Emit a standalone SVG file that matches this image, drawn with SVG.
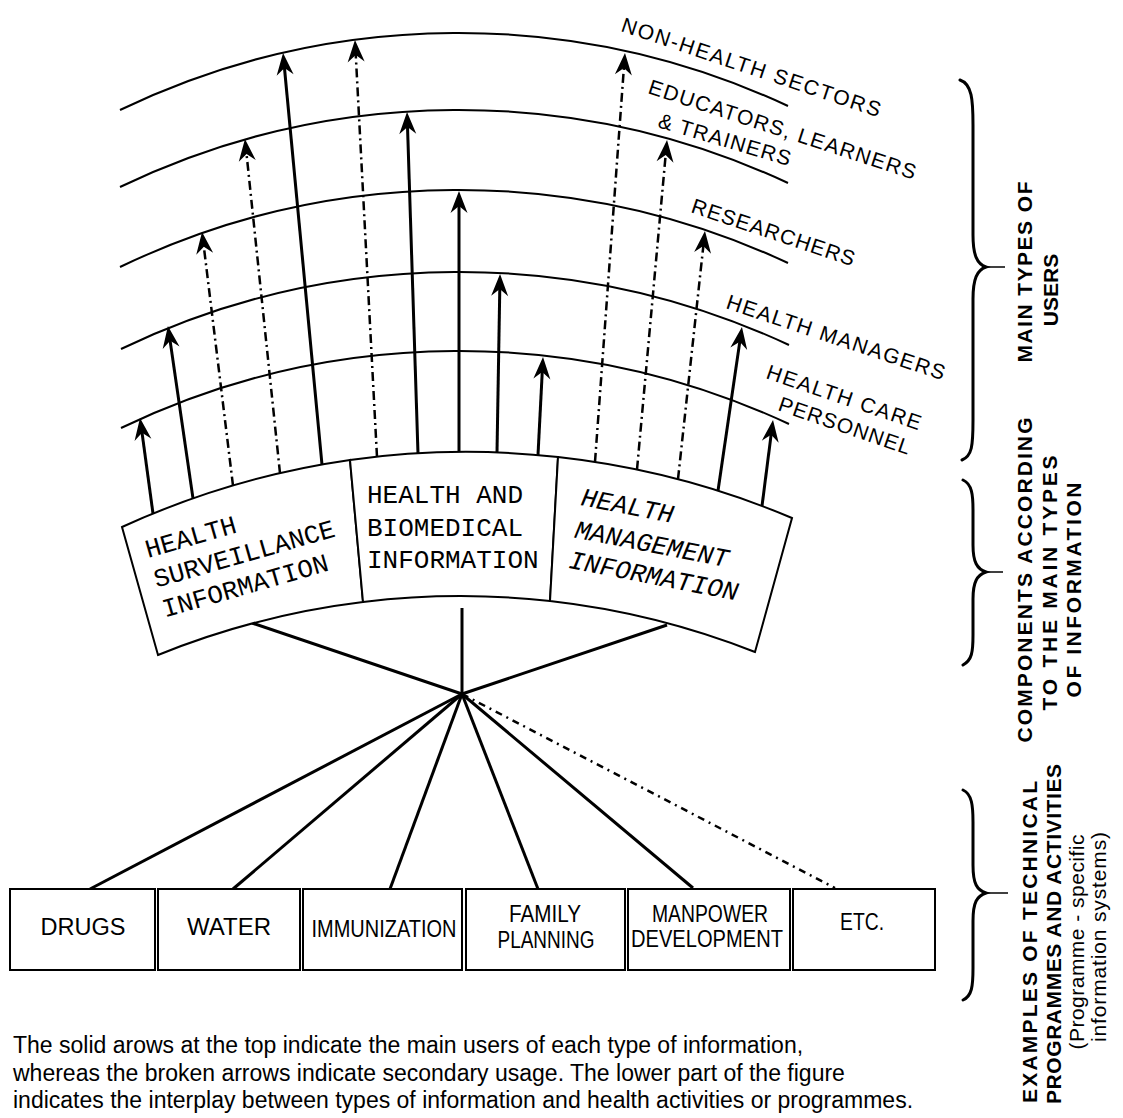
<svg xmlns="http://www.w3.org/2000/svg" width="1123" height="1118" viewBox="0 0 1123 1118">
<style>
.arc{fill:none;stroke:#000;stroke-width:2}
.sol{fill:none;stroke:#000;stroke-width:3;marker-end:url(#ah)}
.dsh{fill:none;stroke:#000;stroke-width:2.5;stroke-dasharray:9 4 2 4;marker-end:url(#ah)}
.fan{fill:none;stroke:#000;stroke-width:3}
.fand{fill:none;stroke:#000;stroke-width:2.5;stroke-dasharray:7 5 2 5}
.box{fill:#fff;stroke:#000;stroke-width:2}
.brace{fill:none;stroke:#000;stroke-width:3;stroke-linecap:round}
.tick{fill:none;stroke:#000;stroke-width:1.5}
.mono{font-family:"Liberation Mono","DejaVu Sans Mono",monospace;font-size:26px;fill:#000}
.lbl{font-family:"Liberation Sans",Arial,sans-serif;font-size:21px;fill:#000}
.bx{font-family:"Liberation Sans",Arial,sans-serif;font-size:23px;text-anchor:middle;fill:#000}
.side{font-family:"Liberation Sans",Arial,sans-serif;font-size:21px;font-weight:bold;text-anchor:middle;fill:#000}
.sider{font-family:"Liberation Sans",Arial,sans-serif;font-size:21px;text-anchor:middle;fill:#000}
.cap{font-family:"Liberation Sans",Arial,sans-serif;font-size:23px;fill:#000}
</style>
<defs>
<marker id="ah" markerUnits="userSpaceOnUse" viewBox="-16 -10 26 20" refX="0" refY="0" markerWidth="26" markerHeight="20" orient="auto">
<path d="M8,0 L-14,-8.5 L-7,0 L-14,8.5 Z" fill="#000"/>
</marker>
</defs>
<rect x="0" y="0" width="1123" height="1118" fill="#fff"/>

<g id="user-nonhealth">
<path class="arc" d="M120,110 A781,781 0 0 1 788,106"/>
<text class="lbl" transform="translate(620,31) rotate(18.5)" textLength="272">NON-HEALTH SECTORS</text>
</g>
<g id="user-educators">
<path class="arc" d="M120,187 A781,781 0 0 1 788,183"/>
<text class="lbl" transform="translate(647,93) rotate(18)" textLength="280">EDUCATORS, LEARNERS</text>
<text class="lbl" transform="translate(657,127) rotate(16.5)" textLength="137">&amp; TRAINERS</text>
</g>
<g id="user-researchers">
<path class="arc" d="M120,267 A781,781 0 0 1 788,263"/>
<text class="lbl" transform="translate(690,212) rotate(18.5)" textLength="171">RESEARCHERS</text>
</g>
<g id="user-managers">
<path class="arc" d="M121,349 A781,781 0 0 1 789,345"/>
<text class="lbl" transform="translate(725,308) rotate(18.4)" textLength="229">HEALTH MANAGERS</text>
</g>
<g id="user-carepersonnel">
<path class="arc" d="M121,428 A781,781 0 0 1 789,424"/>
<text class="lbl" transform="translate(765,378) rotate(18.8)" textLength="162">HEALTH CARE</text>
<text class="lbl" transform="translate(777,410) rotate(19)" textLength="138">PERSONNEL</text>
</g>

<g id="connectors">
<line class="sol" x1="153" y1="513.5" x2="141.1" y2="425.9"/>
<line class="sol" x1="193" y1="498.4" x2="169.1" y2="333.9"/>
<line class="dsh" x1="233" y1="485.6" x2="203" y2="239.9"/>
<line class="dsh" x1="280" y1="473.3" x2="245.8" y2="147"/>
<line class="sol" x1="322" y1="464.7" x2="283.8" y2="61"/>
<line class="dsh" x1="377" y1="456.9" x2="355.4" y2="48"/>
<line class="sol" x1="418" y1="453.4" x2="407.3" y2="120"/>
<line class="sol" x1="459" y1="452" x2="459" y2="199"/>
<line class="sol" x1="497" y1="452.5" x2="499.9" y2="282"/>
<line class="sol" x1="538" y1="455" x2="542.6" y2="365"/>
<line class="dsh" x1="595" y1="461.9" x2="624.4" y2="61"/>
<line class="dsh" x1="637" y1="469.6" x2="666.3" y2="148"/>
<line class="dsh" x1="678" y1="479.2" x2="704.1" y2="239"/>
<line class="sol" x1="718" y1="490.8" x2="740.8" y2="334.9"/>
<line class="sol" x1="762" y1="506.1" x2="772" y2="427.9"/>
<line class="fan" x1="462" y1="694" x2="252" y2="623"/>
<line class="fan" x1="462" y1="694" x2="462" y2="608"/>
<line class="fan" x1="462" y1="694" x2="667" y2="625"/>
<line class="fan" x1="462" y1="694" x2="90" y2="889"/>
<line class="fan" x1="462" y1="694" x2="233" y2="889"/>
<line class="fan" x1="462" y1="694" x2="390" y2="889"/>
<line class="fan" x1="462" y1="694" x2="538" y2="889"/>
<line class="fan" x1="462" y1="694" x2="693" y2="888"/>
<line class="fand" x1="462" y1="694" x2="835" y2="888"/>
</g>

<g id="comp-surveillance">
<path class="box" d="M122,527 A832,832 0 0 1 350,460 L363,602 A804,804 0 0 0 158,655 Z"/>
<g class="mono" transform="translate(148,558) rotate(-16)">
<text x="0" y="0">HEALTH</text>
<text x="0" y="31">SURVEILLANCE</text>
<text x="0" y="62">INFORMATION</text>
</g>
</g>
<g id="comp-biomedical">
<path class="box" d="M350,460 A832,832 0 0 1 558,457 L550,601 A804,804 0 0 0 363,602 Z"/>
<text class="mono" x="367" y="503">HEALTH AND</text>
<text class="mono" x="367" y="536">BIOMEDICAL</text>
<text class="mono" x="367" y="568">INFORMATION</text>
</g>
<g id="comp-management">
<path class="box" d="M558,457 A832,832 0 0 1 792,518 L755,652 A804,804 0 0 0 550,601 Z"/>
<g class="mono" font-style="italic" transform="translate(580,505) rotate(11)">
<text x="0" y="0">HEALTH</text>
<text x="0" y="33">MANAGEMENT</text>
<text x="0" y="64">INFORMATION</text>
</g>
</g>

<g id="prog-drugs">
<rect class="box" x="10" y="889" width="145" height="81"/>
<text class="bx" x="83" y="935" textLength="85" lengthAdjust="spacingAndGlyphs">DRUGS</text>
</g>
<g id="prog-water">
<rect class="box" x="158" y="889" width="142" height="81"/>
<text class="bx" x="229" y="935" textLength="84" lengthAdjust="spacingAndGlyphs">WATER</text>
</g>
<g id="prog-immunization">
<rect class="box" x="303" y="889" width="159" height="81"/>
<text class="bx" x="384" y="937" textLength="145" lengthAdjust="spacingAndGlyphs">IMMUNIZATION</text>
</g>
<g id="prog-family">
<rect class="box" x="466" y="889" width="159" height="81"/>
<text class="bx" x="545" y="922" textLength="72" lengthAdjust="spacingAndGlyphs">FAMILY</text>
<text class="bx" x="546" y="948" textLength="97" lengthAdjust="spacingAndGlyphs">PLANNING</text>
</g>
<g id="prog-manpower">
<rect class="box" x="628" y="889" width="162" height="81"/>
<text class="bx" x="710" y="922" textLength="116" lengthAdjust="spacingAndGlyphs">MANPOWER</text>
<text class="bx" x="707" y="947" textLength="152" lengthAdjust="spacingAndGlyphs">DEVELOPMENT</text>
</g>
<g id="prog-etc">
<rect class="box" x="793" y="889" width="142" height="81"/>
<text class="bx" x="862" y="930" textLength="44" lengthAdjust="spacingAndGlyphs">ETC.</text>
</g>

<g id="legend-users">
<path class="brace" d="M960,80 C972,84 973,100 973,125 L973,235 C973,255 977,264 986,267 C977,270 973,279 973,299 L973,420 C973,446 972,456 962,460"/>
<path class="tick" d="M986,267 L1005,267"/>
<text class="side" transform="translate(1032,272) rotate(-90)" textLength="181">MAIN TYPES OF</text>
<text class="side" transform="translate(1058,290) rotate(-90)">USERS</text>
</g>
<g id="legend-components">
<path class="brace" d="M963,480 C972,484 973,495 973,510 L973,545 C973,562 977,569 986,572 C977,575 973,582 973,599 L973,635 C973,652 972,660 963,665"/>
<path class="tick" d="M986,572 L1003,572"/>
<text class="side" transform="translate(1032,580) rotate(-90)" textLength="325">COMPONENTS ACCORDING</text>
<text class="side" transform="translate(1057,583) rotate(-90)" textLength="255">TO THE MAIN TYPES</text>
<text class="side" transform="translate(1081,590) rotate(-90)" textLength="215">OF INFORMATION</text>
</g>
<g id="legend-programmes">
<path class="brace" d="M963,790 C972,794 973,806 973,822 L973,865 C973,884 977,890 986,893 C977,896 973,902 973,921 L973,968 C973,986 972,996 963,1000"/>
<path class="tick" d="M986,893 L1008,893"/>
<text class="side" transform="translate(1037,942) rotate(-90)" textLength="322">EXAMPLES OF TECHNICAL</text>
<text class="side" transform="translate(1061,934) rotate(-90)" textLength="340">PROGRAMMES AND ACTIVITIES</text>
<text class="sider" transform="translate(1084,942) rotate(-90)" textLength="215">(Programme - specific</text>
<text class="sider" transform="translate(1106,937) rotate(-90)" textLength="210">information systems)</text>
</g>

<g id="caption">
<text class="cap" x="13" y="1053">The solid arows at the top indicate the main users of each type of information,</text>
<text class="cap" x="13" y="1081">whereas the broken arrows indicate secondary usage. The lower part of the figure</text>
<text class="cap" x="13" y="1108">indicates the interplay between types of information and health activities or programmes.</text>
</g>
</svg>
